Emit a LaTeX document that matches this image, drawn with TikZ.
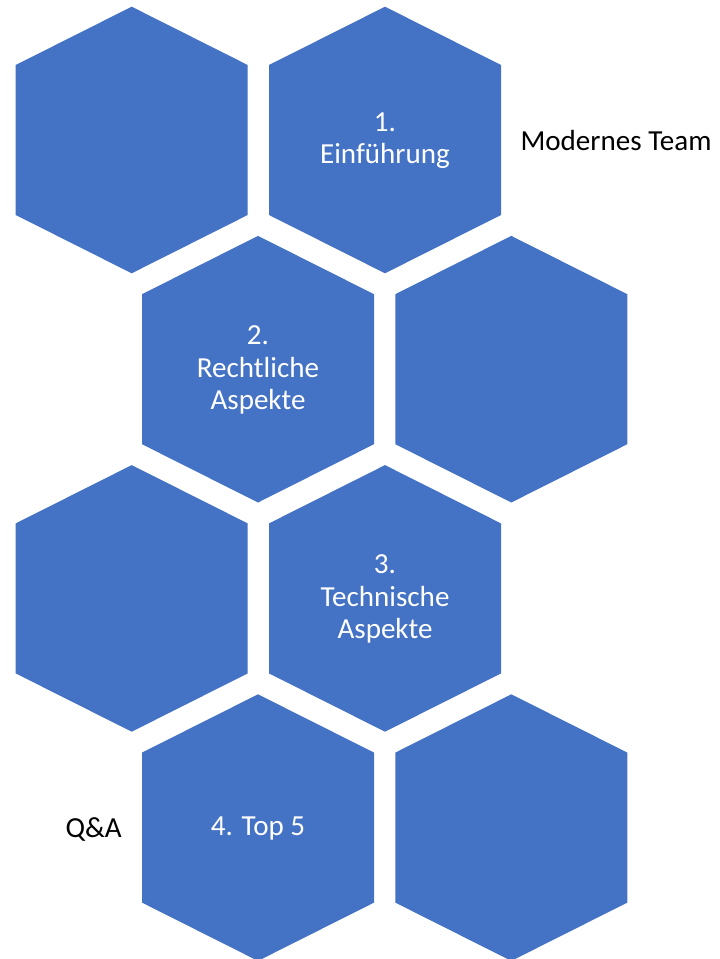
\documentclass[tikz,border=0pt]{standalone}
\usepackage{fontspec}
\setmainfont{Carlito}
\definecolor{hexblue}{HTML}{4472C4}
\tikzset{
  hexa/.pic={\fill[hexblue] (0,-133.3) -- (116,-75) -- (116,75) -- (0,133.3) -- (-116,75) -- (-116,-75) -- cycle;},
  hextext/.style={text=white, align=center, inner sep=0pt, font=\fontsize{21.8}{24.2}\selectfont},
  plaintext/.style={text=black, inner sep=0pt, font=\fontsize{21.8}{24.2}\selectfont}
}
\begin{document}
\begin{tikzpicture}[x=0.75pt,y=-0.75pt]
\useasboundingbox (0,0) rectangle (720,959);
% row 1
\pic at (131.7,140) {hexa};
\pic at (385,140) {hexa};
% row 2
\pic at (258,369.2) {hexa};
\pic at (511.3,369.2) {hexa};
% row 3
\pic at (131.7,598.4) {hexa};
\pic at (385,598.4) {hexa};
% row 4
\pic at (258,827.6) {hexa};
\pic at (511.3,827.6) {hexa};
% texts
\node[hextext] (t1) at (385,141) {1.\\Einführung};
\node[hextext] (t2) at (258,370) {2.\\Rechtliche\\Aspekte};
\node[hextext] (t3) at (385,599) {3.\\Technische\\Aspekte};
\node[hextext] (t4) at (258,829) {4. Top 5};
\node[plaintext] (mt) at (616,141) {Modernes Team};
\node[plaintext] (qa) at (93.7,829) {Q\&A};
\end{tikzpicture}
\end{document}
